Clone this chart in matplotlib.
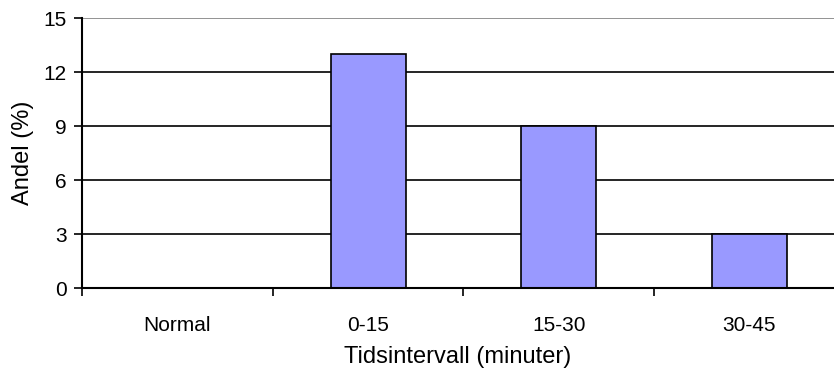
import matplotlib.pyplot as plt
import numpy as np

plt.rcParams['font.family'] = ['Liberation Sans', 'DejaVu Sans']

categories = ['Normal', '0-15', '15-30', '30-45']
values = [0, 13, 9, 3]
y_ticks = [0, 3, 6, 9, 12, 15]

fig = plt.figure(figsize=(8.34, 3.69), dpi=100)
# axes runs off the right edge like in the source picture
ax = fig.add_axes([82 / 834, 1 - 288 / 369, 752 / 834, 270 / 369])

x = np.arange(len(categories))
ax.bar(x, values, width=0.393, color='#9999ff', edgecolor='black', linewidth=1.2, zorder=3)

for t in y_ticks[1:-1]:
    ax.axhline(t, color='black', linewidth=1.2, zorder=1)
ax.axhline(y_ticks[-1], color='#808080', linewidth=1.2, zorder=1)

ax.set_yticks(y_ticks)
ax.set_yticklabels([str(t) for t in y_ticks], fontsize=15)

ax.set_xticks(np.arange(len(categories) + 1) - 0.5)
ax.set_xticklabels([])
ax.set_xticks(x, minor=True)
ax.set_xticklabels(categories, minor=True, fontsize=15)
ax.tick_params(axis='x', which='minor', length=0, pad=20)
ax.tick_params(axis='x', which='major', length=6, width=1.2, direction='out')
ax.tick_params(axis='y', length=6, width=1.2, direction='out', pad=5)

# limits after the ticks, set_xticks would widen them
ax.set_xlim(-0.5, -0.5 + 752 / 190.7)
ax.set_ylim(0, 15)

for s in ['top', 'right']:
    ax.spines[s].set_visible(False)
for s in ['left', 'bottom']:
    ax.spines[s].set_linewidth(1.5)
    ax.spines[s].set_zorder(4)

ax.set_ylabel('Andel (%)', fontsize=17, labelpad=7)
ax.set_xlabel('Tidsintervall (minuter)', fontsize=17, labelpad=8)

fig.savefig('out.png', dpi=100)
